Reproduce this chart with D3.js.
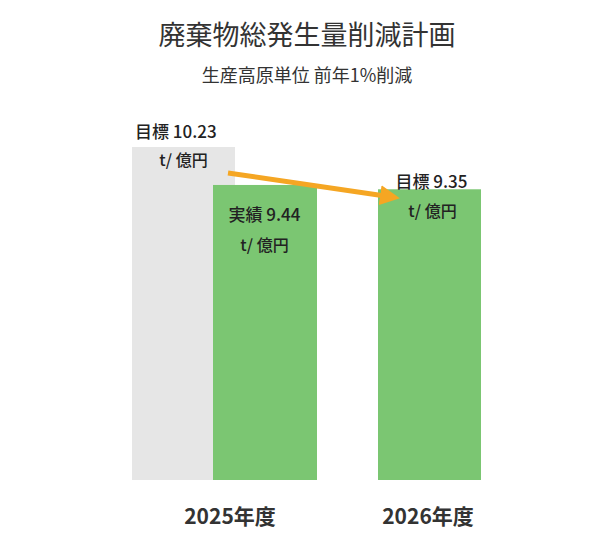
<!DOCTYPE html>
<html><head><meta charset="utf-8">
<script src="https://cdn.jsdelivr.net/npm/d3@7"></script>
<style>body{margin:0;background:#fff}text{font-family:"Noto Sans CJK JP","Noto Sans",sans-serif}</style>
</head><body><svg id="c" width="615" height="534"></svg>
<script>
const categories = ["2025年度", "2026年度"];
const targetValues = [10.23, 9.35];
const actualValues = [9.44, null];
const unitLabel = "t/ 億円";

const svg = d3.select("#c");
const x = d3.scaleBand().domain(categories).range([132, 530]).paddingInner(0.1);
const y = d3.scaleLinear().domain([3.3, 10.23]).range([480, 147]);
const bw = 103;
const gray = "#e6e6e6", green = "#7bc672";

svg.append("text").attr("x", 307).attr("y", 45).attr("text-anchor", "middle")
  .attr("font-size", 27).attr("fill", "#333").text("廃棄物総発生量削減計画");
svg.append("text").attr("x", 307).attr("y", 82).attr("text-anchor", "middle")
  .attr("font-size", 18).attr("fill", "#333").text("生産高原単位 前年1%削減");

// 2025 target (gray), actual (green)
const x0 = 132, x1 = 213, x2 = 378;
svg.append("rect").attr("x", x0).attr("y", y(targetValues[0])).attr("width", bw)
  .attr("height", y.range()[0] - y(targetValues[0])).attr("fill", gray);
svg.append("rect").attr("x", x1).attr("y", y(actualValues[0])).attr("width", bw + 1)
  .attr("height", y.range()[0] - y(actualValues[0])).attr("fill", green);
svg.append("rect").attr("x", x2).attr("y", y(targetValues[1])).attr("width", bw)
  .attr("height", y.range()[0] - y(targetValues[1])).attr("fill", green);

const t = (xx, yy, s, anchor="middle", size=16) => svg.append("text").attr("x", xx).attr("y", yy)
  .attr("text-anchor", anchor).attr("font-size", size).attr("font-weight", 500).attr("fill", "#222").text(s);
t(135, 138, "目標  " + targetValues[0].toFixed(2), "start", 17);
t(x0 + bw/2, 166, unitLabel);
t(x1 + bw/2, 221, "実績  " + actualValues[0].toFixed(2), "middle", 17);
t(x1 + bw/2, 251, unitLabel);
t(x2 + bw/2 + 2, 188, "目標  " + targetValues[1].toFixed(2), "middle", 17);
t(x2 + bw/2 + 3, 217, unitLabel);

// arrow
svg.append("defs").append("marker").attr("id", "ah").attr("viewBox", "0 0 10 10")
  .attr("refX", 6).attr("refY", 5).attr("markerWidth", 4).attr("markerHeight", 4)
  .attr("orient", "auto").append("path").attr("d", "M0,0L10,5L0,10z").attr("fill", "#f5a623");
svg.append("line").attr("x1", 228).attr("y1", 173).attr("x2", 392).attr("y2", 197)
  .attr("stroke", "#f5a623").attr("stroke-width", 5).attr("marker-end", "url(#ah)");

// x labels
[230, 428].forEach((cx, i) => svg.append("text").attr("x", cx).attr("y", 524).attr("text-anchor", "middle")
  .attr("font-size", 21).attr("font-weight", 700).attr("fill", "#333").text(categories[i]));
</script></body></html>
